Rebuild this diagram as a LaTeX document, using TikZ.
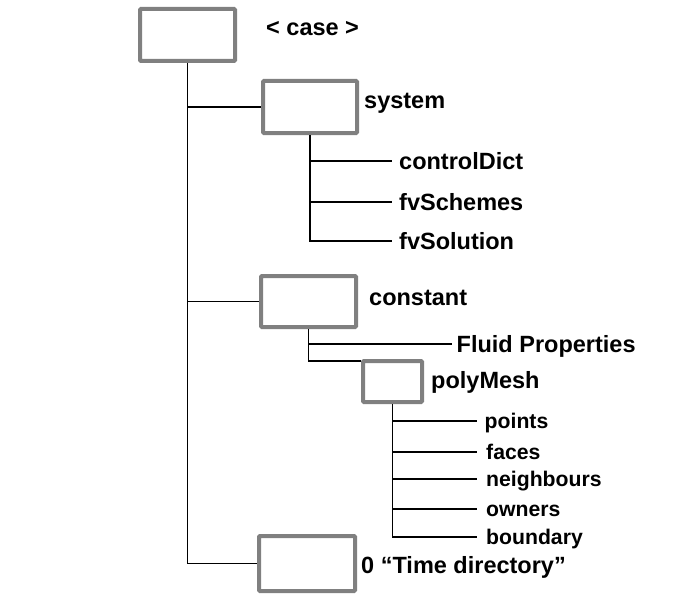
\documentclass[tikz,border=0pt]{standalone}
\usepackage{fontspec}
\setmainfont{Liberation Sans}
\definecolor{boxgray}{RGB}{128,128,128}
\tikzset{
  dirbox/.style={draw=boxgray, line width=4pt, fill=white, rounded corners=1pt, inner sep=0pt, minimum width=#1},
  big/.style={font=\fontsize{23.5pt}{28pt}\selectfont\bfseries, text height=16.8pt, text depth=0pt, inner ysep=0pt},
  small/.style={font=\fontsize{21.2pt}{25pt}\selectfont\bfseries, text height=15pt, text depth=0pt, inner ysep=0pt},
  lab/.style={big, anchor=west, inner xsep=0pt},
  leaf/.style={big, anchor=west, inner xsep=7pt},
  kid/.style={small, anchor=west, inner xsep=9pt},
  conn/.style={draw=black, line width=1.1pt},
}
\begin{document}
\begin{tikzpicture}[x=1pt, y=-1pt]
\useasboundingbox (0,0) rectangle (678,602);
% boxes
\node[dirbox=95pt, minimum height=52pt] (case) at (187.5,35) {};
\node[dirbox=94pt, minimum height=52pt] (system) at (310,107) {};
\node[dirbox=95pt, minimum height=51pt] (constant) at (308.5,301.5) {};
\node[dirbox=59pt, minimum height=41pt] (poly) at (392.5,381.5) {};
\node[dirbox=96pt, minimum height=55pt] (time) at (307,563.5) {};
% folder labels
\node[lab] (casel) at (266,27) {< case >};
\node[lab] (systeml) at (364,100.6) {system};
\node[lab] (constantl) at (369,296.6) {constant};
\node[lab] (polyl) at (431,380) {polyMesh};
\node[lab] (timel) at (361,565) {0 “Time directory”};
% file labels
\node[leaf] (ctrl) at (392,161) {controlDict};
\node[leaf] (schemes) at (392,202) {fvSchemes};
\node[leaf] (solution) at (392,241) {fvSolution};
\node[big, anchor=west, inner xsep=4.5pt] (fluid) at (452,344) {Fluid Properties};
\node[kid, inner xsep=7.5pt] (points) at (477,421) {points};
\node[kid] (faces) at (477,452) {faces};
\node[kid] (neigh) at (477,479) {neighbours};
\node[kid] (owners) at (477,509) {owners};
\node[kid] (boundary) at (477,537) {boundary};
% connectors
\draw[conn] (case.south) |- (time.west);
\draw[conn] (case.south |- system.west) -- (system.west);
\draw[conn] (case.south |- constant.west) -- (constant.west);
\draw[conn] (system.south) |- (solution.west);
\draw[conn] (system.south |- ctrl.west) -- (ctrl.west);
\draw[conn] (system.south |- schemes.west) -- (schemes.west);
\draw[conn] (constant.south) |- ([yshift=-2pt]poly.north west);
\draw[conn] (constant.south |- fluid.west) -- (fluid.west);
\draw[conn] (poly.south) |- (boundary.west);
\draw[conn] (poly.south |- points.west) -- (points.west);
\draw[conn] (poly.south |- faces.west) -- (faces.west);
\draw[conn] (poly.south |- neigh.west) -- (neigh.west);
\draw[conn] (poly.south |- owners.west) -- (owners.west);
\end{tikzpicture}
\end{document}
